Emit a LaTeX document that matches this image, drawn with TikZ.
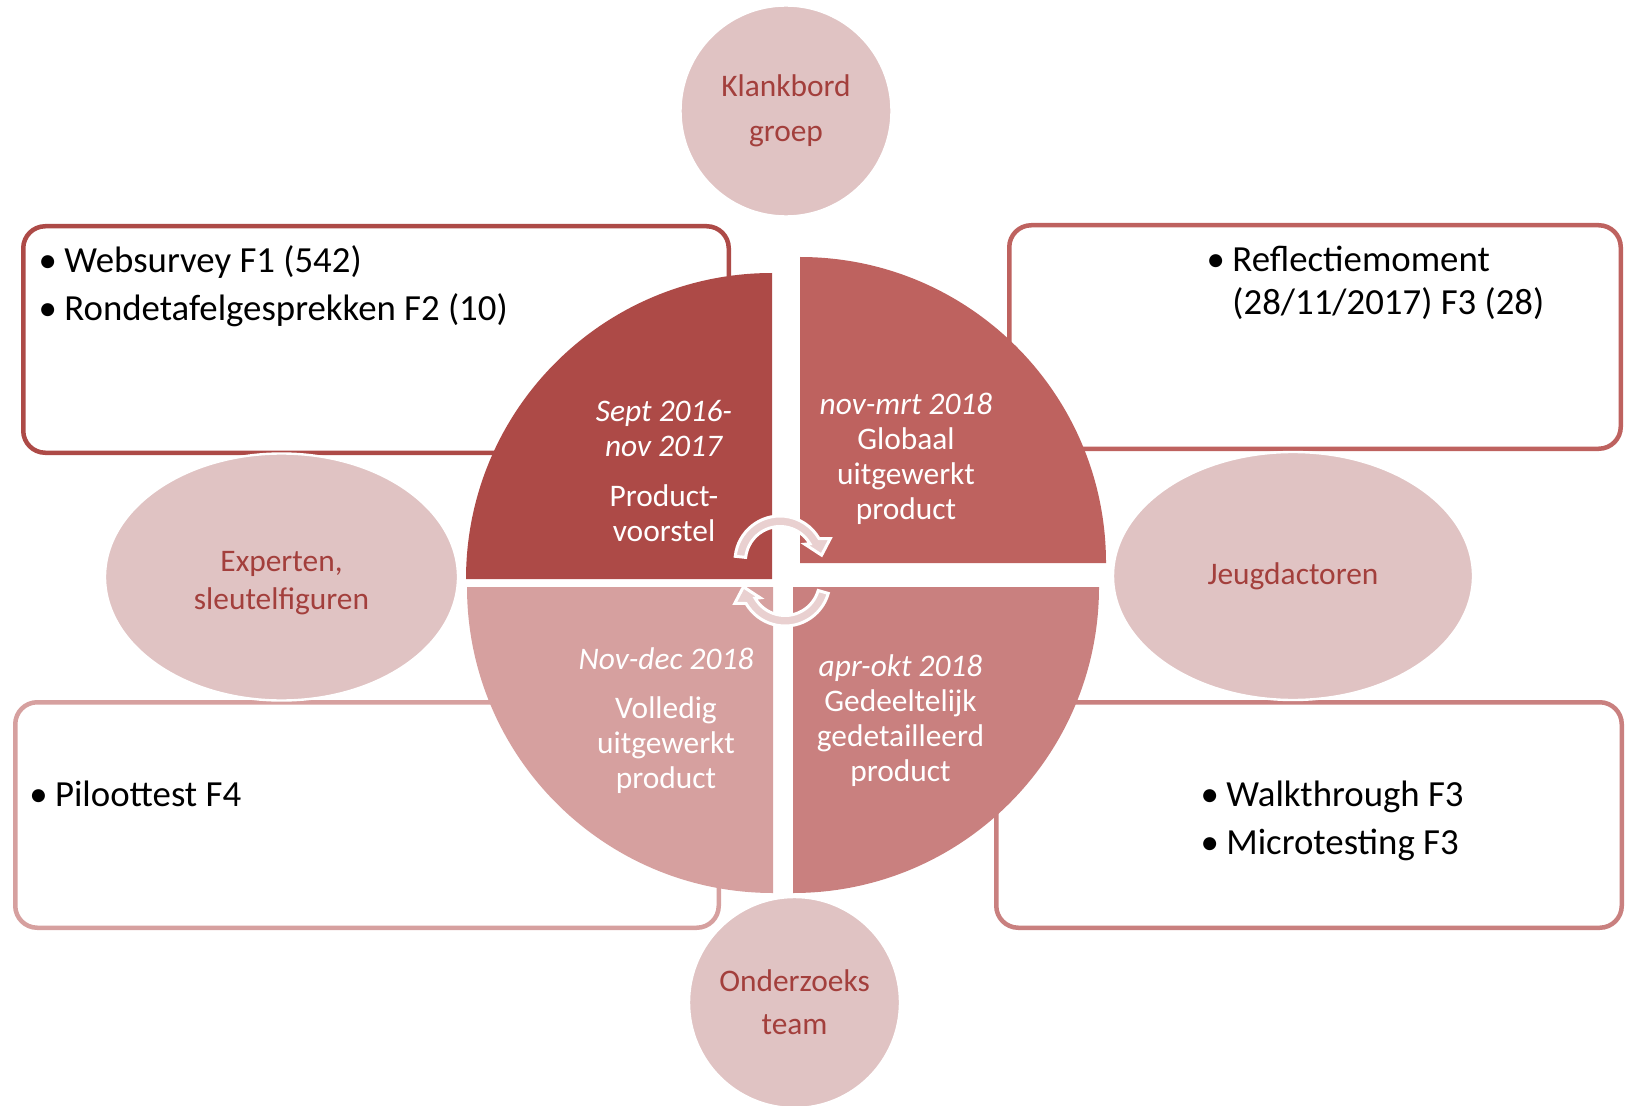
\documentclass[tikz,border=0pt]{standalone}
\usepackage{fontspec}
\setmainfont{Carlito}
\usepackage{tikz}
\usetikzlibrary{shapes.geometric}
\definecolor{phaseA}{HTML}{AD4A47}
\definecolor{phaseB}{HTML}{BE625F}
\definecolor{phaseC}{HTML}{C9807F}
\definecolor{phaseD}{HTML}{D6A09F}
\definecolor{actorfill}{HTML}{E0C3C3}
\definecolor{actortext}{HTML}{A33F3C}
\definecolor{loopfill}{HTML}{E9D0D0}
\newcommand{\itm}{\makebox[0.7em][l]{\textbullet}}

\begin{document}
\begin{tikzpicture}
	[x=1pt,y=1pt,
	box/.style={rectangle,rounded corners=11pt,line width=2.25pt,fill=white,inner sep=0pt},
	notes/.style={anchor=base west,align=left,inner sep=0pt,font={\fontsize{18.4}{24}\selectfont}},
	phase/.style={anchor=base,align=center,inner sep=0pt,text=white,font={\fontsize{15.7}{17.5}\selectfont}},
	actor/.style={ellipse,fill=actorfill,draw=white,line width=1.2pt,inner sep=0pt,align=center,text=actortext,font={\fontsize{15.7}{17.5}\selectfont}},
	loopArrow/.style={fill=loopfill,draw=white,line width=1.5pt,line join=miter}]
	\useasboundingbox (0,0) rectangle (813,552.5);
	\node[box,draw=phaseA,minimum width=352.75pt,minimum height=113.25pt] (boxA) at (188,382.75) {};
	\node[box,draw=phaseB,minimum width=305.75pt,minimum height=111.75pt] (boxB) at (657.5,384) {};
	\node[box,draw=phaseC,minimum width=312.75pt,minimum height=112.75pt] (boxC) at (654.5,145) {};
	\node[box,draw=phaseD,minimum width=351.75pt,minimum height=112.75pt] (boxD) at (183.5,145) {};
	\node[notes] (survey) at (19.15,392) {\itm Websurvey F1 (542)\\\itm Rondetafelgesprekken F2 (10)};
	\node[notes] (reflect) at (603.15,395.5) {\itm Reflectiemoment\\[-3pt]\hphantom{\itm}(28/11/2017) F3 (28)};
	\node[notes] (walk) at (600.1,125.5) {\itm Walkthrough F3\\\itm Microtesting F3};
	\node[notes] (pilot) at (14.45,149.5) {\itm Piloottest F4};
	\fill[phaseA] (386,263) -- +(180:153) arc[start angle=180,end angle=90,radius=153] -- cycle;
	\fill[phaseB] (400,271) -- +(0:153) arc[start angle=0,end angle=90,radius=153] -- cycle;
	\fill[phaseC] (396.5,259) -- +(270:153) arc[start angle=270,end angle=360,radius=153] -- cycle;
	\fill[phaseD] (386.5,259) -- +(180:153) arc[start angle=180,end angle=270,radius=153] -- cycle;
	\node[phase] (proposal) at (332,282) {\textit{Sept 2016-}\\\textit{nov 2017}\\[7.5pt]Product-\\voorstel};
	\node[phase] (global) at (453,293) {\textit{nov-mrt 2018}\\Globaal\\uitgewerkt\\product};
	\node[phase] (partial) at (450.25,162) {\textit{apr-okt 2018}\\Gedeeltelijk\\gedetailleerd\\product};
	\node[phase] (full) at (333,158.5) {\textit{Nov-dec 2018}\\[7pt]Volledig\\uitgewerkt\\product};
	\filldraw[loopArrow,shift={(390,272)}] (174:22.5) arc[start angle=174,end angle=30,radius=22.5] -- (24:27.5) -- (8:21) -- (34:15) -- (30:17.25) arc[start angle=30,end angle=174,radius=17.25] -- cycle;
	\filldraw[loopArrow,shift={(392.5,262)}] (-16:22.5) arc[start angle=-16,end angle=-150,radius=22.5] -- (-156:27.5) -- (-172:21) -- (-146:15) -- (-150:17.25) arc[start angle=-150,end angle=-16,radius=17.25] -- cycle;
	\node[actor,circle,minimum size=105.5pt] (panel) at (393,497) {Klankbord\\[5pt]groep};
	\node[actor,minimum width=176.5pt,minimum height=123.5pt] (experts) at (140.75,264) {\rule{0pt}{16.1pt}Experten,\\[1.3pt]sleutelfiguren};
	\node[actor,minimum width=180pt,minimum height=124pt] (youth) at (646.5,264.5) {Jeugdactoren};
	\node[actor,circle,minimum size=105.5pt] (team) at (397.25,51.25) {Onderzoeks\\[3.8pt]team};
\end{tikzpicture}
\end{document}
